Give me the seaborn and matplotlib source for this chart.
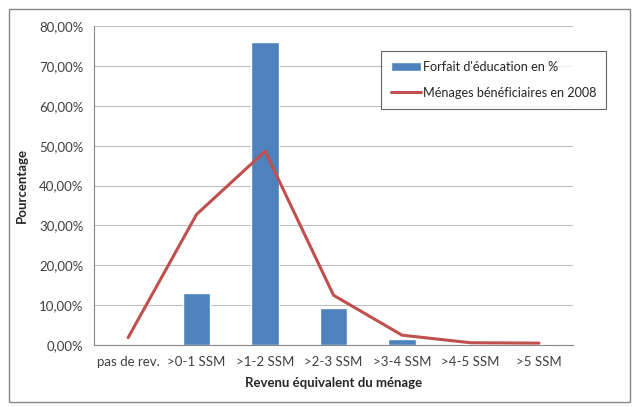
import numpy as np
import pandas as pd
import matplotlib
matplotlib.use("Agg")
import matplotlib.pyplot as plt
import seaborn as sns
from matplotlib.ticker import FuncFormatter, FixedLocator
from matplotlib.patches import Rectangle

categories = ['pas de rev.', '>0-1 SSM', '>1-2 SSM', '>2-3 SSM', '>3-4 SSM', '>4-5 SSM', '>5 SSM']
forfait = [0.0, 13.0, 76.0, 9.2, 1.5, 0.4, 0.3]
menages = [1.9, 32.8, 48.6, 12.5, 2.5, 0.6, 0.5]

df = pd.DataFrame({'cat': categories, 'forfait': forfait, 'menages': menages})

sns.set_style('white')
plt.rcParams['font.family'] = ['Lato', 'DejaVu Sans']

fig = plt.figure(figsize=(6.39, 4.07), dpi=100)
ax = fig.add_axes([0.147, 0.152, 0.750, 0.784])

sns.barplot(data=df, x='cat', y='forfait', color='#4F81BD', saturation=1,
            width=0.4, ax=ax, label="Forfait d'éducation en %")
sns.lineplot(data=df, x='cat', y='menages', color='#C0504D', linewidth=2.2,
             sort=False, ax=ax, label='Ménages bénéficiaires en 2008')

ax.set_xlim(-0.5, len(categories) - 0.5)
ax.set_ylim(0, 80)
ax.set_yticks(np.arange(0, 81, 10))
ax.yaxis.set_major_formatter(FuncFormatter(lambda v, p: f'{v:.2f}'.replace('.', ',') + '%'))
ax.yaxis.grid(True, color='#BEBEBE', linewidth=0.8)
ax.set_axisbelow(True)

for s in ['top', 'right']:
    ax.spines[s].set_visible(False)
for s in ['left', 'bottom']:
    ax.spines[s].set_color('#878787')
    ax.spines[s].set_linewidth(0.8)

# tick marks at category boundaries, labels at centers
ax.xaxis.set_minor_locator(FixedLocator(np.arange(-0.5, len(categories), 1)))
ax.tick_params(axis='x', which='major', length=0, labelsize=9.5, colors='#404040', pad=8)
ax.tick_params(axis='x', which='minor', length=5, color='#878787', width=0.8, direction='out')
ax.tick_params(axis='y', length=4, color='#878787', width=0.8, direction='out',
               labelsize=9.5, labelcolor='#404040')

ax.set_xlabel('Revenu équivalent du ménage', fontsize=9.5, fontweight='bold', labelpad=6)
ax.set_ylabel('Pourcentage', fontsize=9.5, fontweight='bold', labelpad=8)

ax.get_legend().remove()
handles, labels = ax.get_legend_handles_labels()
order = [labels.index("Forfait d'éducation en %"), labels.index('Ménages bénéficiaires en 2008')]
leg = fig.legend([handles[i] for i in order], [labels[i] for i in order],
                 loc='upper left', bbox_to_anchor=(0.596, 0.875),
                 fontsize=9.1, frameon=True, fancybox=False, edgecolor='#404040',
                 borderpad=0.8, labelspacing=1.1, handlelength=2.4, handletextpad=0.1,
                 borderaxespad=0)
leg.get_frame().set_linewidth(0.8)

# outer chart border
fig.patches.append(Rectangle((0.014, 0.012), 0.972, 0.966, transform=fig.transFigure,
                             fill=False, edgecolor='#878787', linewidth=1))

fig.savefig('out.png', dpi=100)
